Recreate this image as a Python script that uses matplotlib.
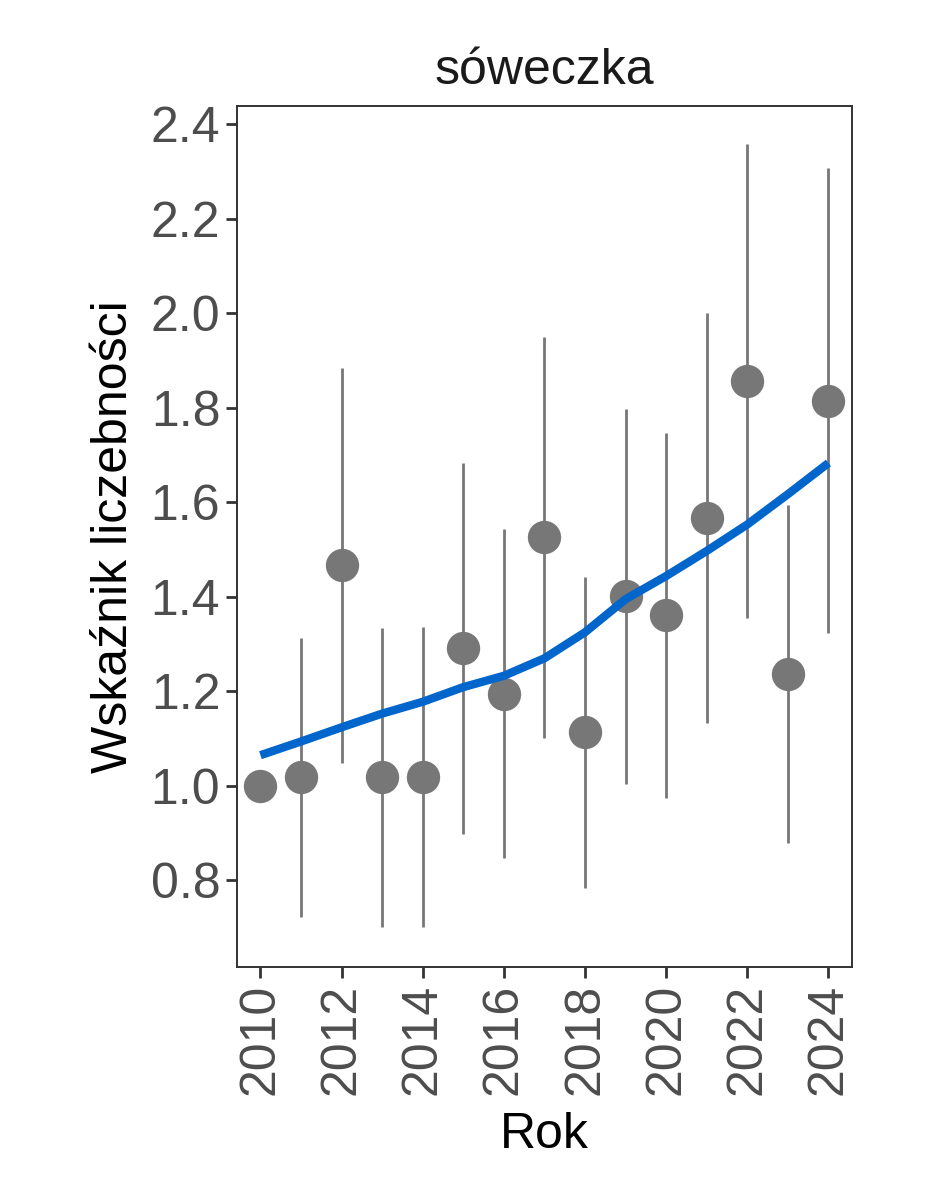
import matplotlib
matplotlib.use("Agg")
import matplotlib.pyplot as plt
import numpy as np

plt.rcParams['font.family'] = ['Liberation Sans', 'DejaVu Sans']

# dane
years = [2010, 2011, 2012, 2013, 2014, 2015, 2016, 2017,
         2018, 2019, 2020, 2021, 2022, 2023, 2024]
index = [1.000, 1.018, 1.467, 1.018, 1.018, 1.292, 1.195, 1.526,
         1.114, 1.402, 1.361, 1.567, 1.856, 1.237, 1.814]
lower = [1.000, 0.723, 1.048, 0.701, 0.701, 0.899, 0.847, 1.101,
         0.785, 1.005, 0.974, 1.133, 1.355, 0.880, 1.323]
upper = [1.000, 1.313, 1.885, 1.335, 1.336, 1.684, 1.543, 1.950,
         1.442, 1.798, 1.747, 2.001, 2.357, 1.595, 2.306]
trend = [1.065, 1.094, 1.124, 1.153, 1.178, 1.209, 1.233, 1.270,
         1.325, 1.395, 1.444, 1.497, 1.553, 1.617, 1.683]

x_ticks = list(range(2010, 2025, 2))
y_ticks = [0.8, 1.0, 1.2, 1.4, 1.6, 1.8, 2.0, 2.2, 2.4]

GREY = '#777777'
BLUE = '#0066CC'
DARK = '#333333'
FS = 36

fig = plt.figure(figsize=(9.44, 11.81), dpi=100)
ax = fig.add_axes([0.251, 0.1812, 0.6515, 0.729])

ax.vlines(years, lower, upper, color=GREY, linewidth=2.0, zorder=1)
ax.plot(years, index, 'o', color=GREY, markersize=24,
        markeredgewidth=0, zorder=2)
ax.plot(years, trend, color=BLUE, linewidth=6.0,
        solid_capstyle='butt', solid_joinstyle='round', zorder=3)

ax.set_xlim(2009.42, 2024.58)
ax.set_ylim(0.617, 2.438)
ax.set_xticks(x_ticks)
ax.set_yticks(y_ticks)
ax.set_yticklabels(['%.1f' % v for v in y_ticks])

for side in ax.spines.values():
    side.set_color(DARK)
    side.set_linewidth(1.4)

ax.tick_params(axis='both', direction='out', length=8, width=2,
               color=DARK, labelcolor='#4D4D4D', labelsize=FS, pad=4)
ax.tick_params(axis='x', labelrotation=90)

ax.set_xlabel('Rok', fontsize=FS, color='black', labelpad=12)
ax.set_ylabel('Wskaźnik liczebności', fontsize=FS, color='black',
              labelpad=10)
ax.set_title('sóweczka', fontsize=FS, color='#1A1A1A', pad=16)

fig.savefig('out.png', dpi=100, facecolor='white')
